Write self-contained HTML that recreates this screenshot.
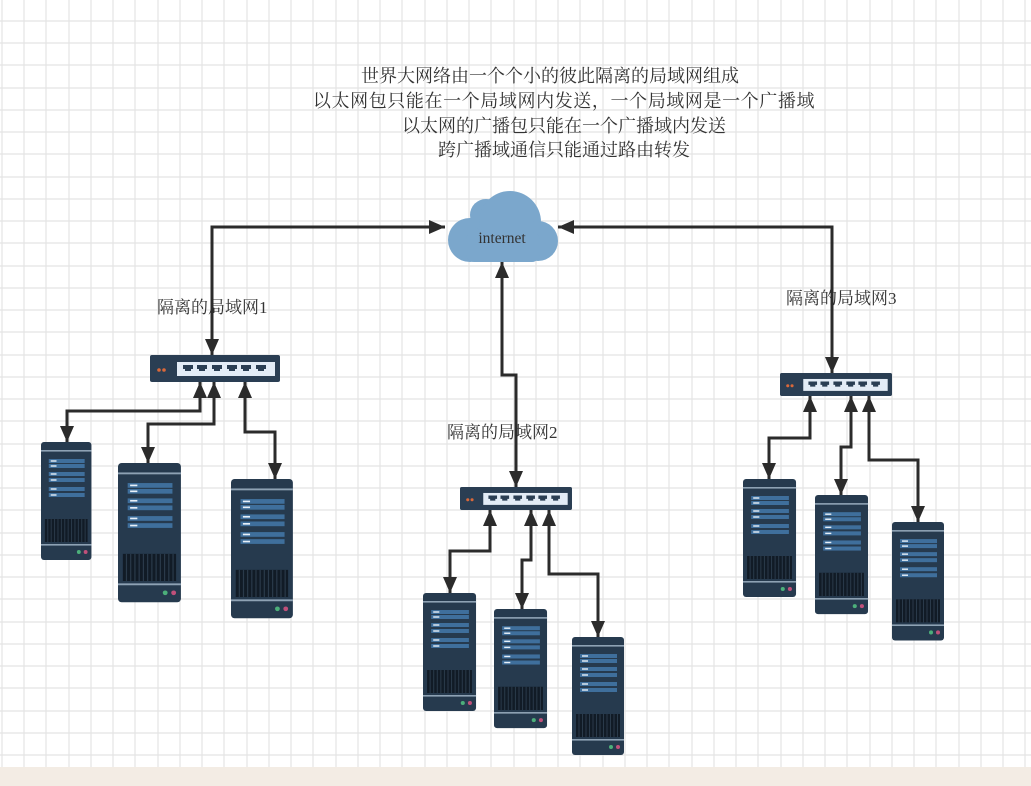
<!DOCTYPE html>
<html><head><meta charset="utf-8"><style>
html,body{margin:0;padding:0;background:#fff;}
svg{position:absolute;left:0;top:0;display:block;}
.t{font-family:"Liberation Serif","Noto Serif CJK SC",serif;fill:#333;}
</style></head><body>
<svg width="1031" height="786" viewBox="0 0 1031 786" xmlns="http://www.w3.org/2000/svg">
<defs>
<marker id="a" viewBox="0 0 16 14" refX="16" refY="7" markerWidth="16" markerHeight="14" markerUnits="userSpaceOnUse" orient="auto-start-reverse">
<path d="M0 0L16 7L0 14Z" fill="#2b2b2b"/>
</marker>
<g id="srv">
<rect x="0" y="0" width="52" height="118" rx="3" fill="#263a4e"/>
<rect x="0" y="8" width="52" height="1.6" fill="#8ea2b4"/>
<g fill="#3f6f9c">
<rect x="8" y="17" width="37" height="4"/><rect x="8" y="22" width="37" height="4"/>
<rect x="8" y="30" width="37" height="4"/><rect x="8" y="36" width="37" height="4"/>
<rect x="8" y="45" width="37" height="4"/><rect x="8" y="51" width="37" height="4"/>
</g>
<g fill="#e8f0f8">
<rect x="10" y="18.3" width="6" height="1.4"/><rect x="10" y="23.3" width="6" height="1.4"/>
<rect x="10" y="31.3" width="6" height="1.4"/><rect x="10" y="37.3" width="6" height="1.4"/>
<rect x="10" y="46.3" width="6" height="1.4"/><rect x="10" y="52.3" width="6" height="1.4"/>
</g>
<rect x="4" y="77" width="44" height="23" fill="#111b26"/>
<path d="M7 77V100M10.5 77V100M14 77V100M17.5 77V100M21 77V100M24.5 77V100M28 77V100M31.5 77V100M35 77V100M38.5 77V100M42 77V100M45.5 77V100" stroke="#2a3a4a" stroke-width="1"/>
<rect x="0" y="102" width="52" height="1.6" fill="#8ea2b4"/>
<circle cx="39" cy="110" r="2" fill="#4caf7a"/><circle cx="46" cy="110" r="2" fill="#c0507a"/>
</g>
<g id="sw">
<rect x="0" y="0" width="130" height="27" rx="2" fill="#2a3e53"/>
<rect x="27" y="7" width="98" height="14" fill="#e3ecf6"/>
<circle cx="9" cy="15" r="1.8" fill="#d9683a"/><circle cx="14" cy="15" r="1.8" fill="#d9683a"/>
<g fill="#2a3e53">
<path d="M33 10h10v4h-2v2h-6v-2h-2z"/><path d="M47 10h10v4h-2v2h-6v-2h-2z"/>
<path d="M62 10h10v4h-2v2h-6v-2h-2z"/><path d="M77 10h10v4h-2v2h-6v-2h-2z"/>
<path d="M91 10h10v4h-2v2h-6v-2h-2z"/><path d="M106 10h10v4h-2v2h-6v-2h-2z"/>
</g>
</g>
</defs>
<rect width="1031" height="786" fill="#fff"/>
<path stroke="#e4e4e4" stroke-width="1.2" fill="none" d="
M2 0V767M24 0V767M46 0V767M69 0V767M91 0V767M113 0V767M135 0V767M158 0V767M180 0V767M202 0V767M224 0V767M247 0V767M269 0V767M291 0V767M313 0V767M336 0V767M358 0V767M380 0V767M402 0V767M425 0V767M447 0V767M469 0V767M491 0V767M514 0V767M536 0V767M558 0V767M580 0V767M603 0V767M625 0V767M647 0V767M669 0V767M692 0V767M714 0V767M736 0V767M758 0V767M781 0V767M803 0V767M825 0V767M847 0V767M870 0V767M892 0V767M914 0V767M936 0V767M959 0V767M981 0V767M1003 0V767M1025 0V767
M0 21H1031M0 43H1031M0 65H1031M0 88H1031M0 110H1031M0 132H1031M0 154H1031M0 177H1031M0 199H1031M0 221H1031M0 243H1031M0 266H1031M0 288H1031M0 310H1031M0 332H1031M0 355H1031M0 377H1031M0 399H1031M0 421H1031M0 444H1031M0 466H1031M0 488H1031M0 510H1031M0 533H1031M0 555H1031M0 577H1031M0 599H1031M0 622H1031M0 644H1031M0 666H1031M0 688H1031M0 711H1031M0 733H1031M0 755H1031"/>
<rect y="767" width="1031" height="19" fill="#f3ece4"/>

<g class="t" font-size="18" text-anchor="middle">
<text x="550" y="82">世界大网络由一个个小的彼此隔离的局域网组成</text>
<text x="564" y="107" letter-spacing="0.6">以太网包只能在一个局域网内发送，一个局域网是一个广播域</text>
<text x="564" y="132">以太网的广播包只能在一个广播域内发送</text>
<text x="564" y="156">跨广播域通信只能通过路由转发</text>
</g>
<g class="t" font-size="17">
<text x="157" y="313">隔离的局域网1</text>
<text x="447" y="438">隔离的局域网2</text>
<text x="786" y="304">隔离的局域网3</text>
</g>

<g fill="#7ba7cc">
<circle cx="470" cy="240" r="22"/>
<circle cx="486" cy="215" r="16"/>
<circle cx="510" cy="222" r="31"/>
<circle cx="538" cy="241" r="20"/>
<rect x="466" y="232" width="74" height="30" rx="8"/>
</g>
<text class="t" x="502" y="243" font-size="15.5" text-anchor="middle">internet</text>

<g fill="none" stroke="#2b2b2b" stroke-width="3" marker-start="url(#a)" marker-end="url(#a)">
<polyline points="212,355 212,227 445,227"/>
<polyline points="558,227 832,227 832,373"/>
<polyline points="502,262 502,375 516,375 516,487"/>
<polyline points="200,382 200,411 67,411 67,442"/>
<polyline points="214,382 214,424 148,424 148,463"/>
<polyline points="245,382 245,432 275,432 275,479"/>
<polyline points="490,510 490,551 450,551 450,593"/>
<polyline points="531,510 531,560 522,560 522,609"/>
<polyline points="549,510 549,574 598,574 598,637"/>
<polyline points="810,396 810,438 769,438 769,479"/>
<polyline points="851,396 851,447 841,447 841,495"/>
<polyline points="869,396 869,460 918,460 918,522"/>
</g>

<use href="#sw" transform="translate(150,355)"/>
<use href="#sw" transform="translate(460,487) scale(0.8615,0.852)"/>
<use href="#sw" transform="translate(780,373) scale(0.8615,0.852)"/>

<use href="#srv" transform="translate(41,442) scale(0.97,1)"/>
<use href="#srv" transform="translate(118,463) scale(1.21,1.18)"/>
<use href="#srv" transform="translate(231,479) scale(1.19,1.18)"/>
<use href="#srv" transform="translate(423,593) scale(1.02,1)"/>
<use href="#srv" transform="translate(494,609) scale(1.02,1.01)"/>
<use href="#srv" transform="translate(572,637) scale(1,1)"/>
<use href="#srv" transform="translate(743,479) scale(1.02,1)"/>
<use href="#srv" transform="translate(815,495) scale(1.02,1.01)"/>
<use href="#srv" transform="translate(892,522) scale(1,1.004)"/>
</svg>
</body></html>
